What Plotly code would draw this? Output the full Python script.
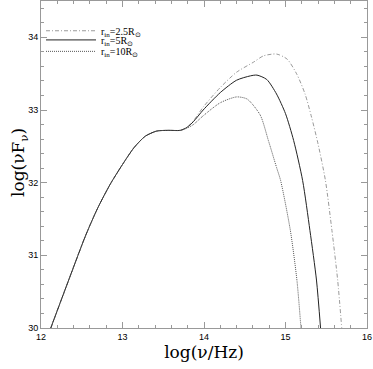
import plotly.graph_objects as go

# shared low-frequency part (log nu, log nuFnu)
common_x = [12.12, 12.35, 12.55, 12.70, 12.85, 13.00, 13.14, 13.28, 13.42, 13.56, 13.71]
common_y = [30.00, 30.69, 31.28, 31.66, 31.98, 32.25, 32.48, 32.64, 32.71, 32.72, 32.72]

# r_in = 2.5 R_sun
x_25 = [13.79, 13.87, 13.99, 14.20, 14.40, 14.61, 14.73, 14.89, 15.02, 15.14,
        15.24, 15.32, 15.40, 15.49, 15.57, 15.64, 15.69]
y_25 = [32.76, 32.85, 33.04, 33.31, 33.52, 33.66, 33.745, 33.77, 33.70, 33.49,
        33.22, 32.90, 32.53, 32.03, 31.34, 30.66, 30.00]

# r_in = 5 R_sun
x_5 = [13.79, 13.87, 13.99, 14.20, 14.40, 14.57, 14.65, 14.77, 14.89, 15.00,
       15.10, 15.21, 15.30, 15.38, 15.43]
y_5 = [32.76, 32.84, 33.00, 33.24, 33.41, 33.47, 33.48, 33.42, 33.22, 32.95,
       32.58, 32.03, 31.34, 30.66, 30.00]

# r_in = 10 R_sun
x_10 = [13.79, 13.87, 13.99, 14.20, 14.40, 14.53, 14.69, 14.79, 14.89, 14.94,
        15.06, 15.14, 15.19]
y_10 = [32.75, 32.80, 32.92, 33.10, 33.18, 33.15, 32.93, 32.58, 32.21, 32.03,
        31.34, 30.66, 30.00]

names = ['r<sub>in</sub>=2.5R<sub>⊙</sub>', 'r<sub>in</sub>=5R<sub>⊙</sub>',
         'r<sub>in</sub>=10R<sub>⊙</sub>']

fig = go.Figure()
series = [(x_25, y_25, '#9a9a9a', '4px,2px,1px,2px', 'legend'),
          (x_5, y_5, '#222222', 'solid', 'legend2'),
          (x_10, y_10, '#555555', '1px,1px', 'legend3')]
for (xs, ys, col, dash, leg), nm in zip(series, names):
    fig.add_trace(go.Scatter(x=common_x + xs, y=common_y + ys, mode='lines', name=nm, legend=leg,
                             showlegend=True,
                             line=dict(color=col, width=1, dash=dash, shape='spline', smoothing=0.7)))

axis_style = dict(showgrid=False, zeroline=False, showline=True, linecolor='#999999', linewidth=1,
                  mirror='allticks', ticks='inside', ticklen=6, tickcolor='#999999', automargin=False,
                  tickfont=dict(family='Liberation Sans', size=9, color='black'))

title_font = dict(family='DejaVu Serif', size=17, color='black')
fig.update_xaxes(range=[12, 16], dtick=1, minor=dict(dtick=0.2, ticks='inside', ticklen=3, tickcolor='#999999'),
                 title=dict(text='log(ν/Hz)', font=title_font, standoff=3),
                 **axis_style)
fig.update_yaxes(range=[30, 34.5], dtick=1, minor=dict(dtick=0.2, ticks='inside', ticklen=3, tickcolor='#999999'),
                 **axis_style)

# y title placed by hand, a little closer to the tick labels than plotly's default
fig.add_annotation(text='log(νF<sub>ν</sub>)', xref='paper', yref='paper', x=-0.064, y=0.505,
                   xanchor='center', yanchor='middle', textangle=-90, showarrow=False, font=title_font)

# one small legend per curve so the rows sit as tightly as in the original
leg_style = dict(x=0.0, xanchor='left', yanchor='middle', bgcolor='rgba(0,0,0,0)', itemwidth=50,
                 font=dict(family='Liberation Serif', size=10, color='black'))
fig.update_layout(width=373, height=369, margin=dict(l=41, r=6, t=1, b=41),
                  plot_bgcolor='white', paper_bgcolor='white', showlegend=True,
                  font=dict(color='black'),
                  legend=dict(y=0.909, **leg_style),
                  legend2=dict(y=0.881, **leg_style),
                  legend3=dict(y=0.846, **leg_style))

# drop the browser's default 8px body margin so the figure sits at the page corner
fig.write_html("out.html", config={'displayModeBar': False},
               post_script="document.body.style.margin='0px';")
